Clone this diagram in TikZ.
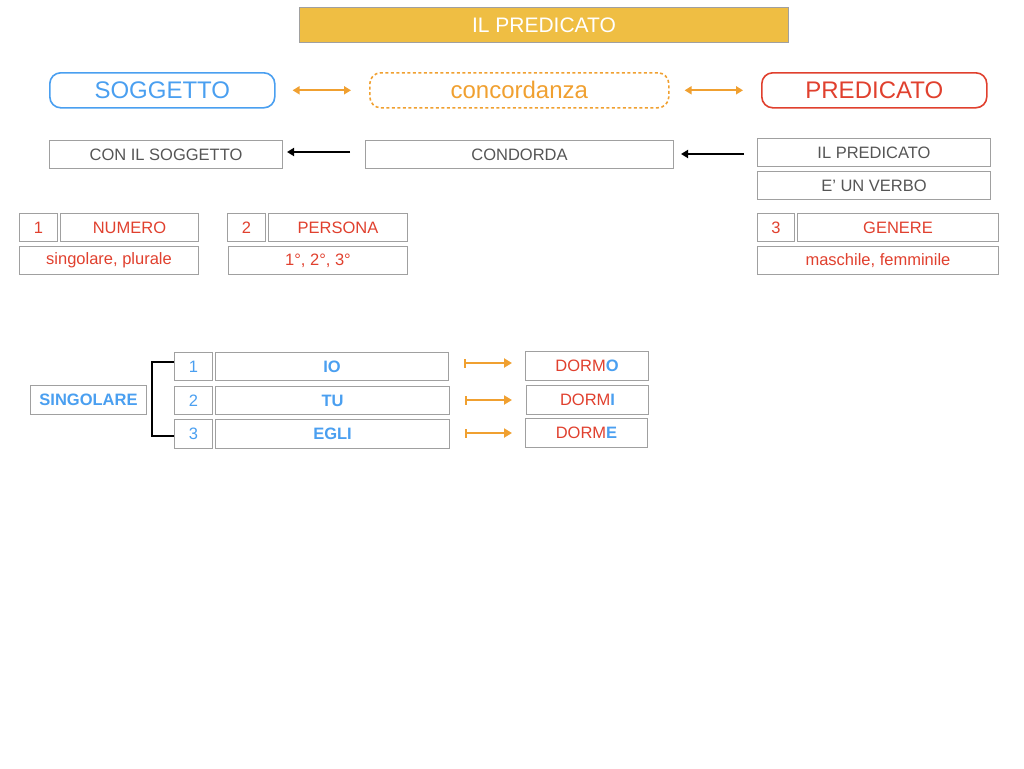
\documentclass[tikz,border=0pt]{standalone}
\usepackage{fontspec}
\setmainfont{Liberation Sans}
\usetikzlibrary{arrows.meta}
\definecolor{ttl}{HTML}{EFBE43}
\definecolor{bl}{HTML}{4A9FF0}
\definecolor{rd}{HTML}{E0402E}
\definecolor{og}{HTML}{F0A030}
\definecolor{tx}{HTML}{555555}
\definecolor{bd}{HTML}{A0A0A0}
\tikzset{
  box/.style={draw=bd,line width=1pt,inner sep=0pt,anchor=north west},
  pill/.style={rounded corners=11pt,line width=1.6pt,inner sep=0pt,anchor=north west},
  gt/.style={font=\fontsize{16.5}{16.5}\selectfont,text=tx},
  rt/.style={font=\fontsize{16.5}{16.5}\selectfont,text=rd},
  bt/.style={font=\fontsize{16.5}{16.5}\selectfont\bfseries,text=bl},
  nt/.style={font=\fontsize{16.5}{16.5}\selectfont,text=bl},
  oarr/.style={draw=og,line width=2pt,{Triangle[length=7pt,width=8pt]}-{Triangle[length=7pt,width=8pt]}},
  barr/.style={draw=black,line width=2pt,-{Triangle[length=7pt,width=8pt]}},
  farr/.style={draw=og,line width=2pt,{Bar[width=9pt,line width=1.5pt]}-{Triangle[length=8pt,width=9pt]}},
}
\begin{document}
\begin{tikzpicture}[x=1pt,y=-1pt]
\useasboundingbox (0,0) rectangle (1024,768);
% title
\node[box,fill=ttl,minimum width=489pt,minimum height=35pt,text=white,font=\fontsize{21}{21}\selectfont] (title) at (299,7) {IL PREDICATO};
% top row
\node[pill,draw=bl,minimum width=225pt,minimum height=35pt,text=bl,font=\fontsize{24}{24}\selectfont] (sog) at (49,72) {SOGGETTO};
\node[pill,draw=og,dash pattern=on 3pt off 2.5pt,minimum width=299pt,minimum height=35pt,text=og,font=\fontsize{24}{24}\selectfont] (conc) at (369,72) {concordanza};
\node[pill,draw=rd,minimum width=225pt,minimum height=35pt,text=rd,font=\fontsize{24}{24}\selectfont] (pred) at (761,72) {PREDICATO};
\draw[oarr] ([xshift=17pt]sog.east) -- ([xshift=-18pt]conc.west);
\draw[oarr] ([xshift=15pt]conc.east) -- ([xshift=-18pt]pred.west);
% second row
\node[box,gt,minimum width=233pt,minimum height=28pt] (con) at (49,140) {CON IL SOGGETTO};
\node[box,gt,minimum width=308pt,minimum height=28pt] (cond) at (365,140) {CONDORDA};
\node[box,gt,minimum width=233pt,minimum height=28pt] (ilp) at (757,138) {IL PREDICATO};
\node[box,gt,minimum width=233pt,minimum height=28pt] (verbo) at (757,171) {E’ UN VERBO};
\coordinate (a1s) at (350,152);
\coordinate (a1e) at (287,152);
\coordinate (a2s) at (744,154);
\coordinate (a2e) at (681,154);
\draw[barr] (a1s) -- (a1e);
\draw[barr] (a2s) -- (a2e);
% third row
\node[box,rt,minimum width=38pt,minimum height=28pt] (n1) at (19,213) {1};
\node[box,rt,minimum width=138pt,minimum height=28pt] (num) at (60,213) {NUMERO};
\node[box,rt,minimum width=179pt,minimum height=28pt] (sp) at (19,246) {singolare, plurale};
\node[box,rt,minimum width=38pt,minimum height=28pt] (n2) at (227,213) {2};
\node[box,rt,minimum width=139pt,minimum height=28pt] (pers) at (268,213) {PERSONA};
\node[box,rt,minimum width=179pt,minimum height=28pt] (deg) at (228,246) {1°, 2°, 3°};
\node[box,rt,minimum width=37pt,minimum height=28pt] (n3) at (757,213) {3};
\node[box,rt,minimum width=201pt,minimum height=28pt] (gen) at (797,213) {GENERE};
\node[box,rt,minimum width=241pt,minimum height=28pt] (mf) at (757,246) {maschile, femminile};
% bottom
\node[box,bt,minimum width=116pt,minimum height=29pt] (sing) at (30,385) {SINGOLARE};
\node[box,nt,minimum width=38pt,minimum height=28pt] (p1) at (174,352) {1};
\node[box,bt,minimum width=233pt,minimum height=28pt] (io) at (215,352) {IO};
\node[box,nt,minimum width=38pt,minimum height=28pt] (p2) at (174,386) {2};
\node[box,bt,minimum width=234pt,minimum height=28pt] (tu) at (215,386) {TU};
\node[box,nt,minimum width=38pt,minimum height=29pt] (p3) at (174,419) {3};
\node[box,bt,minimum width=234pt,minimum height=29pt] (egli) at (215,419) {EGLI};
\draw[line width=2pt] (p1.west |- 0,362) -- (152,362) -- (152,436) -- (p3.west |- 0,436);
\node[box,rt,minimum width=123pt,minimum height=29pt] (d1) at (525,351) {DORM\textcolor{bl}{\bfseries O}};
\node[box,rt,minimum width=122pt,minimum height=29pt] (d2) at (526,385) {DORM\textcolor{bl}{\bfseries I}};
\node[box,rt,minimum width=122pt,minimum height=29pt] (d3) at (525,418) {DORM\textcolor{bl}{\bfseries E}};
\draw[farr] ([xshift=15pt]io.east |- 0,363) -- ([xshift=-13pt]d1.west |- 0,363);
\draw[farr] ([xshift=15pt]tu.east |- 0,400) -- ([xshift=-14pt]d2.west |- 0,400);
\draw[farr] ([xshift=15pt]egli.east |- 0,433) -- ([xshift=-13pt]d3.west |- 0,433);
\end{tikzpicture}
\end{document}
